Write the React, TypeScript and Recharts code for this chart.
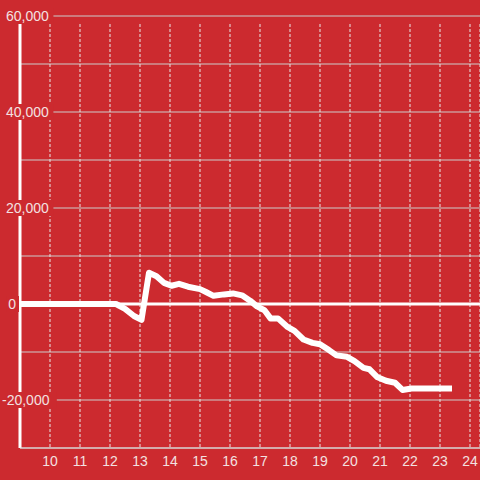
import React from "react";
import {
  LineChart,
  Line,
  XAxis,
  YAxis,
  CartesianGrid,
  ReferenceLine,
} from "recharts";

// hour of day (decimal) and running total
const hours = [
  9, 12.2, 12.5, 12.8, 13.05, 13.3, 13.55, 13.8, 14.05, 14.3, 14.6, 15.0,
  15.2, 15.45, 15.8, 16.1, 16.4, 16.67, 16.9, 17.15, 17.35, 17.6, 17.9, 18.15,
  18.45, 18.75, 19.0, 19.3, 19.55, 19.9, 20.15, 20.45, 20.65, 20.9, 21.2,
  21.5, 21.75, 22.05, 23.4,
];
const totals = [
  0, 0, -1000, -2500, -3300, 6500, 5800, 4400, 3800, 4200, 3600, 3100, 2500,
  1700, 2000, 2200, 1800, 700, -500, -1300, -3000, -3000, -4700, -5600, -7400,
  -8100, -8400, -9600, -10700, -11000, -11900, -13300, -13600, -15200, -16000,
  -16400, -17900, -17600, -17600,
];

const xTicks = [10, 11, 12, 13, 14, 15, 16, 17, 18, 19, 20, 21, 22, 23, 24];
const yTicks = [-30000, -20000, -10000, 0, 10000, 20000, 30000, 40000, 50000, 60000];
const yLabelled = [-20000, 0, 20000, 40000, 60000];

const data = hours.map((h, i) => ({ hour: h, total: totals[i] }));

const BG = "#cc2a2f";
const TEXT = "#f3e1e1";
const GRID = "#dcdcdc";

const YTick = (props: any) => {
  const { y, payload } = props;
  const v = Number(payload.value);
  if (!yLabelled.includes(v)) return <g />;
  const label = v.toLocaleString("en-US");
  const w = label.length * 7.4;
  const isZero = v === 0;
  const x0 = isZero ? 16 - w : v < 0 ? 2 : 6;
  return (
    <g>
      <rect x={x0 - 2} y={y - 8} width={w + 5} height={16} fill={BG} />
      <text
        x={isZero ? 16 : x0}
        y={y}
        dy="0.35em"
        textAnchor={isZero ? "end" : "start"}
        fill={TEXT}
        fontSize={14}
        fontFamily="'Liberation Sans', Arial, sans-serif"
      >
        {label}
      </text>
    </g>
  );
};

export default function App() {
  return (
    <div
      style={{
        position: "absolute",
        top: 0,
        left: 0,
        width: 480,
        height: 480,
        background: BG,
        fontFamily: "'Liberation Sans', Arial, sans-serif",
      }}
    >
      <LineChart
        width={480}
        height={480}
        data={data}
        margin={{ top: 16, right: 0, bottom: 0, left: 0 }}
      >
        <CartesianGrid
          horizontal={{ stroke: GRID, strokeWidth: 1 }}
          vertical={false}
        />
        <CartesianGrid
          horizontal={false}
          vertical={(p: any) => (
            <line
              key={p.key}
              x1={p.x1}
              x2={p.x2}
              y1={p.y1 + 8}
              y2={p.y2}
              stroke="#e8e8e8"
              strokeWidth={1}
              strokeDasharray="3 2"
            />
          )}
        />
        <ReferenceLine y={0} stroke="#ffffff" strokeWidth={3} />
        <Line
          type="linear"
          dataKey="total"
          stroke="#ffffff"
          strokeWidth={6}
          strokeLinejoin="round"
          strokeLinecap="butt"
          dot={false}
          isAnimationActive={false}
        />
        <ReferenceLine
          x={9}
          stroke="#ffffff"
          strokeWidth={3}
          shape={(p: any) => (
            <line
              x1={p.x1}
              x2={p.x2}
              y1={Math.min(p.y1, p.y2) + 8}
              y2={Math.max(p.y1, p.y2)}
              stroke="#ffffff"
              strokeWidth={3}
            />
          )}
        />
        <XAxis
          dataKey="hour"
          type="number"
          domain={[9, 24 + 1 / 3]}
          ticks={xTicks}
          allowDataOverflow
          tickLine={false}
          tickSize={0}
          tickMargin={8}
          axisLine={{ stroke: GRID, strokeWidth: 1 }}
          tick={{ fill: TEXT, fontSize: 14 }}
          height={32}
        />
        <YAxis
          type="number"
          domain={[-30000, 60000]}
          ticks={yTicks}
          interval={0}
          width={20}
          axisLine={false}
          tickLine={false}
          tick={YTick}
        />
      </LineChart>
    </div>
  );
}
